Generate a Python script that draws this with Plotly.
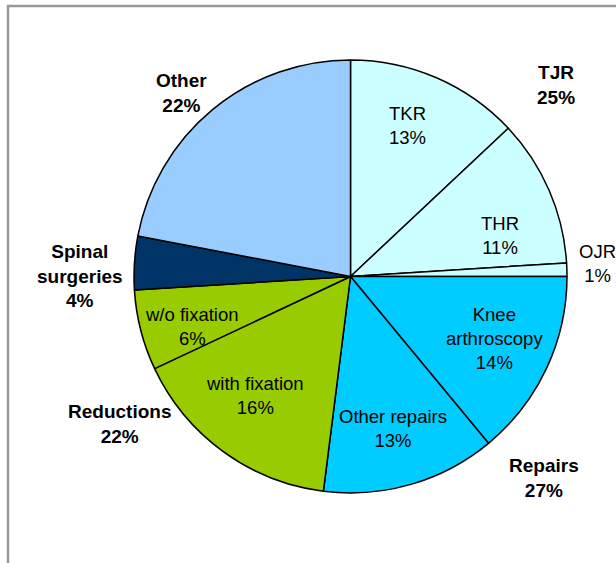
import plotly.graph_objects as go

# Data
slice_labels = ["TKR", "THR", "OJR", "Knee arthroscopy", "Other repairs",
                "with fixation", "w/o fixation", "Spinal surgeries", "Other"]
slice_values = [13, 11, 1, 14, 13, 16, 6, 4, 22]
slice_colors = ["#CCFFFF", "#CCFFFF", "#CCFFFF", "#00CCFF", "#00CCFF",
                "#99CC00", "#99CC00", "#003366", "#99CCFF"]

group_labels = ["TJR", "Repairs", "Reductions", "Spinal<br>surgeries", "Other"]
group_values = [25, 27, 22, 4, 22]

W, H = 616, 563
cx, cy, R = 350.5, 276.5, 216.5

fig = go.Figure(go.Pie(
    labels=slice_labels,
    values=slice_values,
    sort=False,
    direction="clockwise",
    rotation=0,
    textinfo="none",
    hoverinfo="label+percent",
    marker=dict(colors=slice_colors, line=dict(color="#000000", width=1.5)),
    domain=dict(x=[(cx - R) / W, (cx + R) / W], y=[1 - (cy + R) / H, 1 - (cy - R) / H]),
    showlegend=False,
))

# label text positions (pixels, centre of text block)
slice_text_pos = [(407, 125), (500, 235), (597, 263), (494, 338), (393, 428),
                  (255, 395), (192, 326), None, None]
slice_text_disp = ["TKR", "THR", "OJR", "Knee<br>arthroscopy", "Other repairs",
                   "with fixation", "w/o fixation", None, None]
group_text_pos = [(556, 85), (544, 478), (119, 424), (80, 276), (181, 93)]

ann = []
total = sum(slice_values)
for lab, val, pos in zip(slice_text_disp, slice_values, slice_text_pos):
    if pos is None:
        continue
    ann.append(dict(x=pos[0] / W, y=1 - pos[1] / H, xref="paper", yref="paper",
                    text=f"{lab}<br>{round(100 * val / total)}%", showarrow=False,
                    xanchor="center", yanchor="middle", align="center",
                    font=dict(family="Liberation Sans, Arial", size=18.5, color="#000000")))
for lab, val, pos in zip(group_labels, group_values, group_text_pos):
    ann.append(dict(x=pos[0] / W, y=1 - pos[1] / H, xref="paper", yref="paper",
                    text=f"<b>{lab}<br>{val}%</b>", showarrow=False,
                    xanchor="center", yanchor="middle", align="center",
                    font=dict(family="Liberation Sans, Arial", size=19, color="#000000")))

frame = dict(color="#999999", width=2.5)
fig.update_layout(
    width=W, height=H,
    margin=dict(l=0, r=0, t=0, b=0),
    paper_bgcolor="white", plot_bgcolor="white",
    annotations=ann,
    shapes=[
        dict(type="line", xref="paper", yref="paper", x0=7 / W, x1=1.0, y0=1 - 6 / H, y1=1 - 6 / H, line=frame),
        dict(type="line", xref="paper", yref="paper", x0=8 / W, x1=8 / W, y0=1 - 5 / H, y1=0, line=frame),
    ],
)

fig.write_html("out.html", config={"displayModeBar": False},
               post_script="document.body.style.margin='0';document.body.style.overflow='hidden';")
